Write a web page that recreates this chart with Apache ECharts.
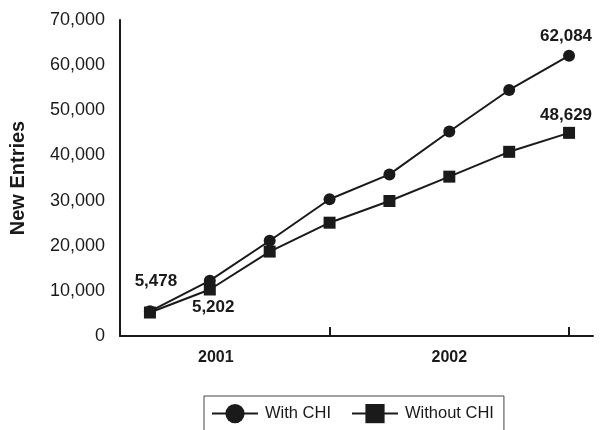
<!DOCTYPE html>
<html><head><meta charset="utf-8">
<script src="https://cdn.jsdelivr.net/npm/echarts@6/dist/echarts.min.js"></script>
<style>html,body{margin:0;padding:0;background:#fff}#c{width:607px;height:430px}</style>
</head><body><div id="c"></div>
<script>
// Quarter index (1..8 = 2001 Q1 .. 2002 Q4)
const quarters = [1, 2, 3, 4, 5, 6, 7, 8];
const withCHI = [5478, 12250, 21100, 30300, 35800, 45300, 54500, 62084];
const withoutCHI = [5202, 10300, 18700, 25100, 29900, 35300, 40800, 45000];
const withLabels = ['5,478', '', '', '', '', '', '', '62,084'];
const withoutLabels = ['5,202', '', '', '', '', '', '', '48,629'];
const yearLabels = ['2001', '2002'];
const yTicks = [0, 10000, 20000, 30000, 40000, 50000, 60000, 70000];

const FONT = '"Liberation Sans", Arial, Helvetica, sans-serif';
const INK = '#1a1a1a';
const labelBase = { show: true, fontFamily: FONT, fontWeight: 'bold', fontSize: 17, color: INK };

function build(vals, texts, labelCfgs) {
  return vals.map((v, i) => {
    const item = { value: [quarters[i], v] };
    if (texts[i]) item.label = Object.assign({}, labelBase, labelCfgs[i] || {}, { formatter: texts[i] });
    return item;
  });
}

const chart = echarts.init(document.getElementById('c'), null, { renderer: 'canvas' });
chart.setOption({
  animation: false,
  grid: { left: 119, right: 14, top: 20, bottom: 94 },
  legend: {
    left: 204, top: 396,
    padding: [8, 10, 40, 7],
    borderColor: '#444', borderWidth: 1,
    itemWidth: 46, itemHeight: 24, itemGap: 20,
    textStyle: { fontFamily: FONT, fontSize: 16.5, color: INK, padding: [0, 0, 0, 2] },
    data: ['With CHI', 'Without CHI']
  },
  xAxis: {
    type: 'value', min: 0.5, max: 8.4,
    splitLine: { show: false },
    axisLine: { show: true, lineStyle: { color: INK, width: 2 } },
    axisTick: { show: true, inside: true, length: 9, customValues: [4, 8], lineStyle: { color: INK, width: 2 } },
    axisLabel: {
      customValues: [2.1, 6],
      formatter: v => (v < 4 ? yearLabels[0] : yearLabels[1]),
      fontFamily: FONT, fontWeight: 'bold', fontSize: 16, color: INK, margin: 14
    }
  },
  yAxis: {
    type: 'value', min: yTicks[0], max: yTicks[yTicks.length - 1], interval: 10000,
    name: 'New Entries', nameLocation: 'middle', nameGap: 92, nameRotate: 90,
    nameTextStyle: { fontFamily: FONT, fontWeight: 'bold', fontSize: 20, color: INK },
    splitLine: { show: false },
    axisLine: { show: true, lineStyle: { color: INK, width: 2 } },
    axisTick: { show: false },
    axisLabel: {
      fontFamily: FONT, fontSize: 18, color: INK, margin: 15,
      formatter: v => v.toLocaleString('en-US')
    }
  },
  series: [
    {
      name: 'With CHI', type: 'line', symbol: 'circle', symbolSize: 12,
      itemStyle: { color: INK }, lineStyle: { color: INK, width: 2 },
      data: build(withCHI, withLabels, {
        0: { position: 'top', distance: 5, offset: [6, -10] },
        7: { position: 'top', distance: 5, offset: [-3, 0] }
      }),
      z: 3
    },
    {
      name: 'Without CHI', type: 'line', symbol: 'rect', symbolSize: 12,
      itemStyle: { color: INK }, lineStyle: { color: INK, width: 2 },
      data: build(withoutCHI, withoutLabels, {
        0: { position: 'right', distance: 36, offset: [0, -5] },
        7: { position: 'top', distance: 3, offset: [-3, 0] }
      }),
      z: 2
    }
  ]
});
</script></body></html>
